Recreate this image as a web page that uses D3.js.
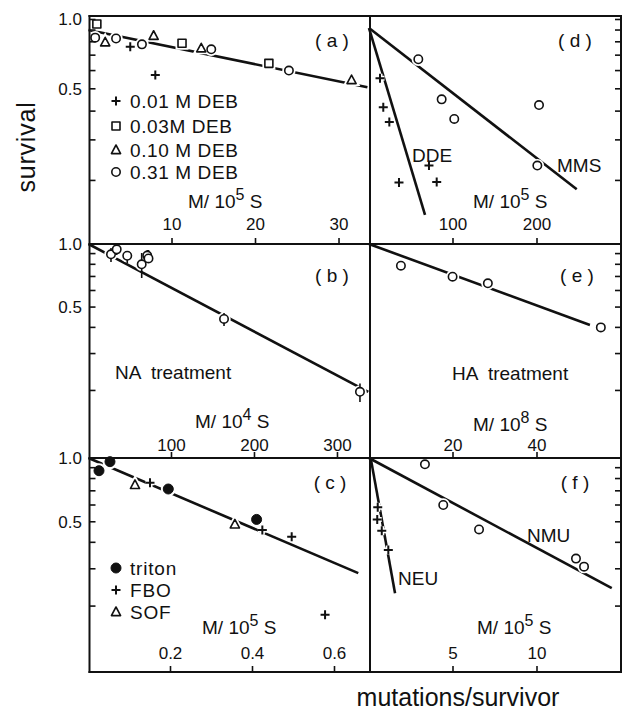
<!DOCTYPE html>
<html><head><meta charset="utf-8">
<script src="https://cdn.jsdelivr.net/npm/d3@7"></script>
<style>
body{margin:0;background:#fff;}
text{font-family:"Liberation Sans","DejaVu Sans",sans-serif;fill:#111;white-space:pre;}
</style></head><body>
<svg id="chart" width="623" height="726"></svg>
<script>
// ---------------- data ----------------
const yTickValues = [1.0, 0.9, 0.8, 0.7, 0.6, 0.5, 0.4, 0.3, 0.2];
const yTickLabels = [1.0, 0.5];
const panelNames = ["( a )", "( b )", "( c )", "( d )", "( e )", "( f )"];

// (a) DEB, x in M/10^5 S
const aTicks = [10, 20, 30];
const aDeb001 = [[5.0, 0.762], [8.0, 0.574]];
const aDeb003 = [[1.0, 0.956], [11.2, 0.788], [21.6, 0.645]];
const aDeb010 = [[2.0, 0.796], [7.8, 0.850], [13.5, 0.750], [31.5, 0.546]];
const aDeb031 = [[0.8, 0.834], [3.3, 0.827], [6.4, 0.780], [14.7, 0.742], [24.0, 0.600]];
const aFit = [[0, 0.90], [33.4, 0.508]];
const aLegend = ["0.01 M DEB", "0.03M DEB", "0.10 M DEB", "0.31 M DEB"];

// (b) NA treatment, x in M/10^4 S : [x, survival, low, high]
const bTicks = [100, 200, 300];
const bNA = [[27.1, 0.893, 0.820, 0.957], [34.0, 0.943, 0.886, 0.989], [46.7, 0.879, 0.809, 0.919],
             [64.1, 0.800, 0.688, 0.906], [70.8, 0.881, 0.812, 0.936], [72.3, 0.853, 0.812, 0.936],
             [163.3, 0.439, 0.406, 0.469], [327.1, 0.197, 0.176, 0.216]];
const bFit = [[0, 1.0], [337.1, 0.197]];

// (c) triton / FBO / SOF, x in M/10^5 S
const cTicks = [0.2, 0.4, 0.6];
const cTriton = [[0.0256, 0.871], [0.0524, 0.961], [0.1946, 0.714], [0.410, 0.513]];
const cFBO = [[0.150, 0.765], [0.424, 0.457], [0.4956, 0.425], [0.577, 0.182]];
const cSOF = [[0.1134, 0.746], [0.357, 0.486]];
const cFit = [[0, 1.0], [0.658, 0.286]];
const cLegend = ["triton", "FBO", "SOF"];

// (d) DDE / MMS, x in M/10^5 S
const dTicks = [100, 200];
const dDDE = [[13.1, 0.555], [17.0, 0.416], [24.2, 0.359], [35.7, 0.196], [71.4, 0.232], [80.6, 0.197]];
const dMMS = [[58.7, 0.672], [86.5, 0.450], [101.5, 0.370], [202.4, 0.425], [200.4, 0.232]];
const dFitDDE = [[0, 0.918], [66.7, 0.1416]];
const dFitMMS = [[0, 0.918], [247.3, 0.183]];

// (e) HA treatment, x in M/10^8 S
const eTicks = [20, 40];
const eHA = [[7.6, 0.788], [19.9, 0.698], [28.3, 0.649], [55.2, 0.400]];
const eFit = [[0, 1.0], [52.6, 0.411]];

// (f) NEU / NMU, x in M/10^5 S
const fTicks = [5, 10];
const fNEU = [[0.52, 0.585], [0.49, 0.513], [0.76, 0.454], [1.15, 0.368]];
const fNMU = [[3.33, 0.934], [4.42, 0.600], [6.55, 0.460], [12.32, 0.335], [12.80, 0.307]];
const fFitNEU = [[0.12, 0.98], [1.55, 0.230]];
const fFitNMU = [[0, 1.0], [14.45, 0.243]];

// ---------------- layout ----------------
const svg = d3.select("#chart");
const L = 89.5, MID = 370, R = 621;
const rows = [
  {top: 16, bottom: 244, dom: [0.1059, 1.0356], lab: 230},
  {top: 244, bottom: 458, dom: [0.0952, 1.0], lab: 451},
  {top: 458, bottom: 672, dom: [0.0977, 1.0], lab: 659}
];
rows.forEach(r => r.y = d3.scaleLog().domain(r.dom).range([r.bottom, r.top]));

const xa = d3.scaleLinear().domain([0, 33.71]).range([88.5, MID]);
const xb = d3.scaleLinear().domain([0, 339.2]).range([88.5, MID]);
const xc = d3.scaleLinear().domain([0, 0.6866]).range([88.5, MID]);
const xd = d3.scaleLinear().domain([0, 300]).range([369, R]);
const xe = d3.scaleLinear().domain([0, 60]).range([369, R]);
const xf = d3.scaleLinear().domain([0, 15]).range([369, R]);

const gLines = svg.append("g");
const gHalo = svg.append("g");
const gErr = svg.append("g");
const gMark = svg.append("g");
const gFrame = svg.append("g");
const gText = svg.append("g");

// frame
const frame = [[L, 16, R, 16], [L, 672, R, 672], [L, 244, R, 244], [L, 458, R, 458], [L, 16, L, 672], [MID, 16, MID, 672], [R, 16, R, 672]];
gFrame.selectAll("line.f").data(frame).join("line")
  .attr("x1", d => d[0]).attr("y1", d => d[1]).attr("x2", d => d[2]).attr("y2", d => d[3])
  .attr("stroke", "#111").attr("stroke-width", 2).attr("stroke-linecap", "square");

// y ticks (left and right, inward) + labels
rows.forEach(r => {
  yTickValues.forEach(v => {
    const y = r.y(v);
    gFrame.append("line").attr("x1", L).attr("x2", L + 6).attr("y1", y).attr("y2", y).attr("stroke", "#111").attr("stroke-width", 1.6);
    gFrame.append("line").attr("x1", R).attr("x2", R - 6).attr("y1", y).attr("y2", y).attr("stroke", "#111").attr("stroke-width", 1.6);
  });
  yTickLabels.forEach(v => {
    gText.append("text").attr("x", 82).attr("y", r.y(v) + 6).attr("text-anchor", "end")
      .attr("font-size", 17).text(d3.format(".1f")(v));
  });
});

// x ticks (pointing up from the row's bottom line) + labels
function xTicks(scale, ticks, row, fmt) {
  ticks.forEach(t => {
    const x = scale(t);
    gFrame.append("line").attr("x1", x).attr("x2", x).attr("y1", row.bottom).attr("y2", row.bottom - 6)
      .attr("stroke", "#111").attr("stroke-width", 1.6);
    gText.append("text").attr("x", x).attr("y", row.lab).attr("text-anchor", "middle")
      .attr("font-size", 17).text(fmt ? fmt(t) : t);
  });
}
xTicks(xa, aTicks, rows[0]);
xTicks(xd, dTicks, rows[0]);
xTicks(xb, bTicks, rows[1]);
xTicks(xe, eTicks, rows[1]);
xTicks(xc, cTicks, rows[2], d3.format(".1f"));
xTicks(xf, fTicks, rows[2]);

// fit lines
function fit(xs, row, pts) {
  gLines.append("path").datum(pts)
    .attr("d", d3.line().x(d => xs(d[0])).y(d => row.y(d[1])))
    .attr("fill", "none").attr("stroke", "#111").attr("stroke-width", 2.6);
}
fit(xa, rows[0], aFit);
fit(xd, rows[0], dFitDDE);
fit(xd, rows[0], dFitMMS);
fit(xb, rows[1], bFit);
fit(xe, rows[1], eFit);
fit(xc, rows[2], cFit);
fit(xf, rows[2], fFitNEU);
fit(xf, rows[2], fFitNMU);

// marker shapes
function shapePath(type) {
  switch (type) {
    case "circle": return d3.symbol(d3.symbolCircle, Math.PI * 4.2 * 4.2)();
    case "dot": return d3.symbol(d3.symbolCircle, Math.PI * 5 * 5)();
    case "square": return "M-4,-4H4V4H-4Z";
    case "triangle": return "M0,-5L4.6,3.6H-4.6Z";
    case "plus": return "M-4.5,0H4.5M0,-4.5V4.5";
  }
}
function drawMark(g, type, x, y, halo) {
  const p = g.append("path").attr("d", shapePath(type)).attr("transform", `translate(${x},${y})`);
  if (halo) {
    p.attr("fill", type === "plus" ? "none" : "#fff").attr("stroke", "#fff").attr("stroke-width", 5);
    return;
  }
  if (type === "plus") p.attr("fill", "none").attr("stroke", "#111").attr("stroke-width", 2);
  else if (type === "dot") p.attr("fill", "#111").attr("stroke", "#111").attr("stroke-width", 1);
  else p.attr("fill", "#fff").attr("stroke", "#111").attr("stroke-width", 1.6).attr("stroke-linejoin", "round");
}
function marks(xs, row, pts, type) {
  pts.forEach(d => drawMark(gHalo, type, xs(d[0]), row.y(d[1]), true));
  pts.forEach(d => drawMark(gMark, type, xs(d[0]), row.y(d[1]), false));
}
marks(xa, rows[0], aDeb001, "plus");
marks(xa, rows[0], aDeb003, "square");
marks(xa, rows[0], aDeb010, "triangle");
marks(xa, rows[0], aDeb031, "circle");
marks(xd, rows[0], dDDE, "plus");
marks(xd, rows[0], dMMS, "circle");
// error bars for (b)
bNA.forEach(d => {
  gErr.append("line").attr("x1", xb(d[0])).attr("x2", xb(d[0]))
    .attr("y1", rows[1].y(d[2])).attr("y2", rows[1].y(d[3])).attr("stroke", "#111").attr("stroke-width", 1.6);
});
marks(xb, rows[1], bNA, "circle");
marks(xe, rows[1], eHA, "circle");
marks(xc, rows[2], cTriton, "dot");
marks(xc, rows[2], cFBO, "plus");
marks(xc, rows[2], cSOF, "triangle");
marks(xf, rows[2], fNEU, "plus");
marks(xf, rows[2], fNMU, "circle");

// legends
const aTypes = ["plus", "square", "triangle", "circle"];
const aLegY = [101, 126, 150, 172];
aLegend.forEach((t, i) => {
  drawMark(gMark, aTypes[i], 116, aLegY[i], false);
  gText.append("text").attr("x", 130).attr("y", aLegY[i] + 7).attr("font-size", 19).attr("letter-spacing", 0.6).text(t);
});
const cTypes = ["dot", "plus", "triangle"];
const cLegY = [568, 590, 612];
cLegend.forEach((t, i) => {
  drawMark(gMark, cTypes[i], 116, cLegY[i], false);
  gText.append("text").attr("x", 130).attr("y", cLegY[i] + 7).attr("font-size", 19).attr("letter-spacing", 0.8).text(t);
});

// panel names
const namePos = [[332, 47], [332, 282], [330, 489], [575, 47], [577, 282], [575, 489]];
panelNames.forEach((t, i) => {
  gText.append("text").attr("x", namePos[i][0]).attr("y", namePos[i][1]).attr("text-anchor", "middle").attr("font-size", 19).text(t);
});

// unit labels
function unitLabel(x, y, ex) {
  const t = gText.append("text").attr("x", x).attr("y", y).attr("font-size", 19);
  t.append("tspan").text("M/ 10");
  t.append("tspan").attr("dy", -8).attr("font-size", 16).text(ex);
  t.append("tspan").attr("dy", 8).text(" S");
}
unitLabel(188, 208, "5");
unitLabel(473, 208, "5");
unitLabel(195, 428, "4");
unitLabel(473, 431, "8");
unitLabel(202, 634, "5");
unitLabel(477, 634, "5");

// curve / treatment labels
const notes = [["DDE", 412, 162], ["MMS", 557, 172], ["NA  treatment", 115, 379], ["HA  treatment", 452, 380], ["NMU", 527, 542], ["NEU", 398, 585]];
notes.forEach(n => gText.append("text").attr("x", n[1]).attr("y", n[2]).attr("font-size", 19).text(n[0]));

// axis titles
gText.append("text").attr("transform", "translate(35,147) rotate(-90)").attr("text-anchor", "middle")
  .attr("font-size", 25).attr("letter-spacing", 0.8).text("survival");
gText.append("text").attr("x", 458).attr("y", 706).attr("text-anchor", "middle")
  .attr("font-size", 25).text("mutations/survivor");
</script>
</body></html>
